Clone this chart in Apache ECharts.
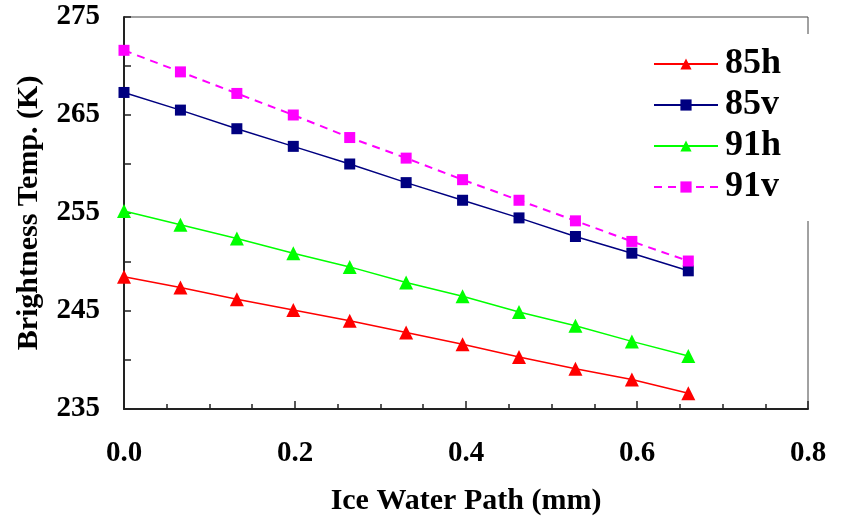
<!DOCTYPE html>
<html>
<head>
<meta charset="utf-8">
<script src="https://cdn.jsdelivr.net/npm/echarts@6/dist/echarts.min.js"></script>
<style>
html,body{margin:0;padding:0;background:#fff;}
#chart{width:842px;height:521px;}
</style>
</head>
<body>
<div id="chart"></div>
<script>
// ---- data ----
var iwp = [0, 0.066, 0.132, 0.198, 0.264, 0.33, 0.396, 0.462, 0.528, 0.594, 0.66];
var tb85h = [248.5, 247.4, 246.2, 245.1, 244.0, 242.8, 241.6, 240.3, 239.1, 238.0, 236.6];
var tb85v = [267.3, 265.5, 263.6, 261.8, 260.0, 258.1, 256.3, 254.5, 252.6, 250.9, 249.1];
var tb91h = [255.2, 253.8, 252.4, 250.9, 249.5, 247.9, 246.5, 244.9, 243.5, 241.9, 240.4];
var tb91v = [271.6, 269.4, 267.2, 265.0, 262.7, 260.6, 258.4, 256.3, 254.2, 252.1, 250.1];
var seriesNames = ['85h', '85v', '91h', '91v'];
var yTickLabels = ['235', '245', '255', '265', '275'];
var xTickLabels = ['0.0', '0.2', '0.4', '0.6', '0.8'];

function pairs(ys) { return iwp.map(function (x, i) { return [x, ys[i]]; }); }

var font = 'Liberation Serif, Times New Roman, serif';
var chart = echarts.init(document.getElementById('chart'), null, { renderer: 'canvas' });

function mk(name, data, color, symbol, size, dashed) {
  return {
    name: name, type: 'line', data: pairs(data),
    symbol: symbol, symbolSize: size, showSymbol: true,
    itemStyle: { color: color },
    lineStyle: { color: color, width: dashed ? 2 : 1.5, type: dashed ? [8, 6] : 'solid' },
    emphasis: { disabled: true }, animation: false
  };
}

chart.setOption({
  animation: false,
  backgroundColor: '#fff',
  grid: { left: 124, right: 34, top: 17, bottom: 112, show: true, borderColor: '#444', borderWidth: 1, backgroundColor: 'transparent' },
  legend: {
    data: seriesNames,
    orient: 'vertical',
    left: 645, top: 34,
    backgroundColor: '#fff',
    padding: [12, 30, 16, 8],
    itemWidth: 64, itemHeight: 14, itemGap: 5,
    textStyle: { fontFamily: font, fontWeight: 'bold', fontSize: 36, lineHeight: 32, color: '#000', padding: [0, 0, 0, 2] }
  },
  xAxis: {
    type: 'value', min: 0, max: 0.8, interval: 0.2,
    name: 'Ice Water Path (mm)', nameLocation: 'middle', nameGap: 77,
    nameTextStyle: { fontFamily: font, fontWeight: 'bold', fontSize: 30, color: '#000' },
    axisLine: { show: true, onZero: false, lineStyle: { color: '#222', width: 2 } },
    axisTick: { show: true, inside: true, length: 8, lineStyle: { color: '#222', width: 1.5 } },
    minorTick: { show: true, splitNumber: 4, length: 5, lineStyle: { color: '#222', width: 1.5 } },
    splitLine: { show: false },
    axisLabel: {
      margin: 30, fontFamily: font, fontWeight: 'bold', fontSize: 29, color: '#000',
      formatter: function (v) { var i = Math.round(v / 0.2); return xTickLabels[i] !== undefined ? xTickLabels[i] : ''; }
    }
  },
  yAxis: {
    type: 'value', min: 235, max: 275, interval: 5,
    name: 'Brightness Temp. (K)', nameLocation: 'middle', nameGap: 80,
    nameTextStyle: { fontFamily: font, fontWeight: 'bold', fontSize: 30, color: '#000' },
    axisLine: { show: true, onZero: false, lineStyle: { color: '#222', width: 2 } },
    axisTick: { show: true, inside: true, length: 7, lineStyle: { color: '#222', width: 1.5 } },
    splitLine: { show: false },
    axisLabel: {
      margin: 24, fontFamily: font, fontWeight: 'bold', fontSize: 29, color: '#000',
      formatter: function (v) { var s = String(Math.round(v)); return yTickLabels.indexOf(s) >= 0 ? s : ''; }
    }
  },
  series: [
    mk('85h', tb85h, '#FF0000', 'triangle', 14, false),
    mk('85v', tb85v, '#000080', 'rect', 11, false),
    mk('91h', tb91h, '#00FF00', 'triangle', 14, false),
    mk('91v', tb91v, '#FF00FF', 'rect', 11, true)
  ]
});
</script>
</body>
</html>
